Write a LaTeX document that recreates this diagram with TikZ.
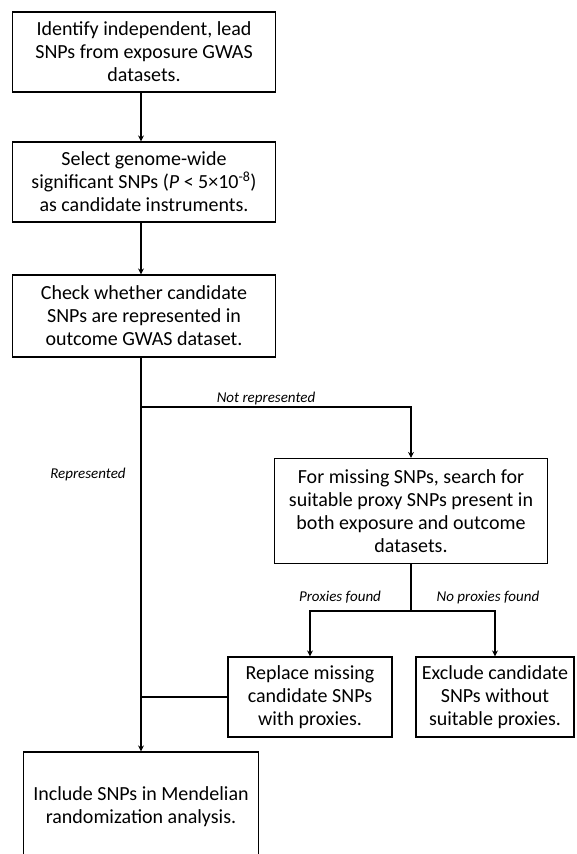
\documentclass[tikz,border=0pt]{standalone}
\usepackage{fontspec}
\setmainfont{Carlito}
\usetikzlibrary{arrows.meta}
\begin{document}
\begin{tikzpicture}[x=1pt,y=-1pt,
	stepbox/.style={draw=black,line width=1.2pt,align=center,font=\fontsize{20}{23}\selectfont,inner sep=0pt},
	lbl/.style={font=\fontsize{15}{17}\selectfont\itshape},
	conn/.style={black,line width=1.7pt},
	arr/.style={conn,-{Stealth[length=6pt,width=6pt]}}]
		\useasboundingbox (0,0) rectangle (576,854);
		\node[stepbox,minimum width=263pt,minimum height=80pt] (ident) at (144,52) {Identify independent, lead\\SNPs from exposure GWAS\\datasets.};
		\node[stepbox,minimum width=263pt,minimum height=80pt] (select) at (144,182) {Select genome-wide\\significant SNPs (\textit{P} < 5×10\textsuperscript{-8})\\as candidate instruments.};
		\node[stepbox,minimum width=263pt,minimum height=82pt] (check) at (144,316) {Check whether candidate\\SNPs are represented in\\outcome GWAS dataset.};
		\node[stepbox,minimum width=273pt,minimum height=105pt] (proxy) at (411,511) {For missing SNPs, search for\\suitable proxy SNPs present in\\both exposure and outcome\\datasets.};
		\node[stepbox,minimum width=164pt,minimum height=80pt] (replace) at (310,697) {Replace missing\\candidate SNPs\\with proxies.};
		\node[stepbox,minimum width=158pt,minimum height=80pt] (exclude) at (495,697) {Exclude candidate\\SNPs without\\suitable proxies.};
		\node[stepbox,minimum width=235pt,minimum height=110pt] (include) at (141,807) {Include SNPs in Mendelian\\randomization analysis.};
		\coordinate (notrep) at (141,407);
		\coordinate (found) at (411,611);
		\coordinate (back) at (141,697);
		\draw[arr](ident.south-|notrep)--(select.north-|notrep);
		\draw[arr](select.south-|notrep)--(check.north-|notrep);
		\draw[arr](check.south-|notrep)--(include.north);
		\draw[arr](notrep)-|(proxy.north);
		\draw[conn](proxy.south)--(found);
		\draw[arr](found)-|(replace.north);
		\draw[arr](found)-|(exclude.north);
		\draw[conn](replace.west)--(back);
		\node[lbl] (lnot) at (266,398) {Not represented};
		\node[lbl] (lrep) at (88,474) {Represented};
		\node[lbl] (lfound) at (340,597) {Proxies found};
		\node[lbl] (lnone) at (488,597) {No proxies found};
	\end{tikzpicture}
\end{document}
